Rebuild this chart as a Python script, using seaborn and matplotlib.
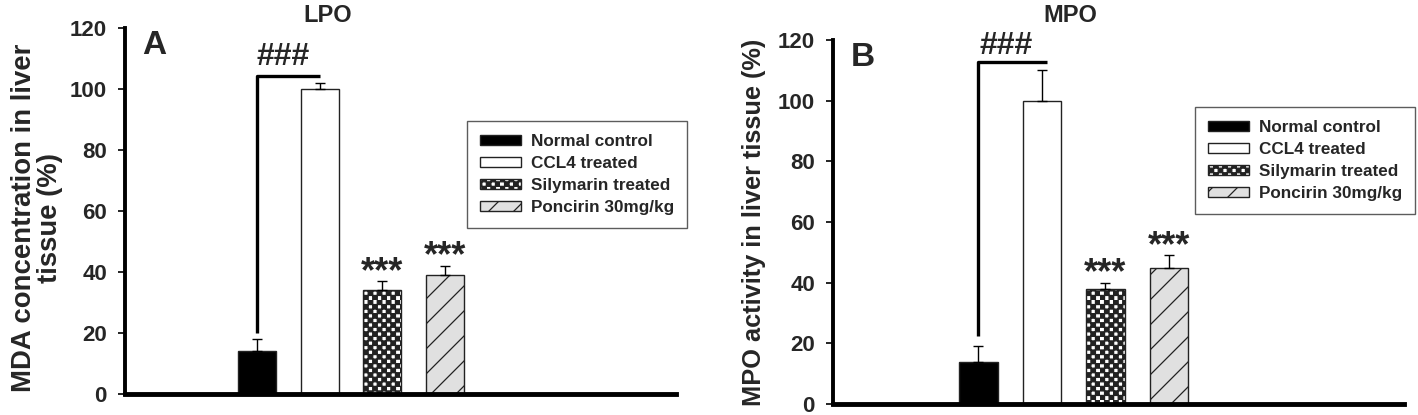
import warnings
import matplotlib
matplotlib.use("Agg")
import matplotlib.pyplot as plt
import matplotlib.hatch as mhatch
from matplotlib.path import Path
from matplotlib.patches import Patch
import seaborn as sns
import pandas as pd
import numpy as np

warnings.filterwarnings("ignore")

# Data
groups = ["Normal control", "CCL4 treated", "Silymarin treated", "Poncirin 30mg/kg"]
lpo_values = [14, 100, 34, 39]
lpo_errors = [4, 2, 3, 3]
mpo_values = [14, 100, 38, 45]
mpo_errors = [5, 10, 2, 4]
y_ticks = [0, 20, 40, 60, 80, 100, 120]


# checkerboard hatch ("c") and sparse diagonal hatch ("g")
class CheckerHatch(mhatch.HatchPatternBase):
    def __init__(self, hatch, density):
        self.n = 22 if "c" in hatch else 0
        self.cells = [(i, j) for i in range(self.n) for j in range(self.n)
                      if (i + j) % 2 == 0]
        self.num_vertices = len(self.cells) * 5

    def set_vertices_and_codes(self, vertices, codes):
        s = 1.0 / self.n
        k = 0
        for i, j in self.cells:
            x, y = i * s, j * s
            vertices[k:k + 5] = [(x, y), (x + s, y), (x + s, y + s), (x, y + s), (x, y)]
            codes[k] = Path.MOVETO
            codes[k + 1:k + 4] = Path.LINETO
            codes[k + 4] = Path.CLOSEPOLY
            k += 5


class SparseDiagHatch(mhatch.HatchPatternBase):
    def __init__(self, hatch, density):
        self.n = 8 if "g" in hatch else 0
        self.num_vertices = (self.n + 1) * 2 if self.n else 0

    def set_vertices_and_codes(self, vertices, codes):
        steps = np.linspace(-0.5, 0.5, self.n + 1)
        vertices[0::2, 0] = 0.0 + steps
        vertices[0::2, 1] = 0.0 - steps
        vertices[1::2, 0] = 1.0 + steps
        vertices[1::2, 1] = 1.0 - steps
        codes[0::2] = Path.MOVETO
        codes[1::2] = Path.LINETO


mhatch._hatch_types.append(CheckerHatch)
mhatch._hatch_types.append(SparseDiagHatch)

sns.set_theme(style="white")
plt.rcParams["font.family"] = ["Liberation Sans", "DejaVu Sans"]
plt.rcParams["hatch.linewidth"] = 0.9

faces = ["black", "white", "white", "#e0e0e0"]
hatches = [None, None, "c", "g"]

fig = plt.figure(figsize=(14.18, 4.15), dpi=100)
ax_a = fig.add_axes([125 / 1418, 21 / 415, 551 / 1418, 366 / 415])
ax_b = fig.add_axes([833 / 1418, 11 / 415, 571 / 1418, 364 / 415])


def draw_panel(ax, values, errors, xlim, letter, ylabel, label_xy, label_size,
               bracket, hash_pos):
    df = pd.DataFrame({"group": groups, "value": values})
    sns.barplot(data=df, x="group", y="value", hue="group", order=groups,
                palette=dict(zip(groups, faces)), edgecolor="#222222",
                linewidth=1.0, width=0.61, errorbar=None, legend=False, ax=ax)
    for patch, h in zip(ax.patches, hatches):
        if h:
            patch.set_hatch(h)
    x = np.arange(len(groups))
    ax.errorbar(x, values, yerr=[np.zeros(len(errors)), errors], fmt="none",
                ecolor="black", elinewidth=1.0, capsize=3.5, capthick=1.0)

    ax.set_xlim(*xlim)
    ax.set_ylim(0, 120)
    ax.set_yticks(y_ticks)
    ax.set_yticklabels([str(t) for t in y_ticks], fontsize=16, fontweight="bold")
    ax.set_xticks([])
    ax.set_xlabel("")
    ax.set_ylabel(ylabel, fontsize=label_size, fontweight="bold", linespacing=1.0)
    ax.yaxis.set_label_coords(*label_xy)
    ax.tick_params(axis="y", left=True, length=5, width=1.2, color="black", pad=8)
    for s in ["top", "right"]:
        ax.spines[s].set_visible(False)
    ax.spines["left"].set_linewidth(2.8)
    ax.spines["left"].set_color("black")
    ax.spines["bottom"].set_linewidth(3.5)
    ax.spines["bottom"].set_color("black")

    ax.text(0.031, 0.995, letter, transform=ax.transAxes, fontsize=24,
            fontweight="bold", va="top", ha="left")

    # significance bracket
    lo, hi, end = bracket
    ax.plot([0, 0, end], [lo, hi, hi], color="black", lw=2.4, clip_on=False,
            solid_capstyle="butt")
    ax.text(hash_pos[0], hash_pos[1], "###", ha="center", va="baseline",
            fontsize=23, fontweight="bold")
    for i in (2, 3):
        ax.annotate("***", (i, values[i] + errors[i]), xytext=(0, -0.5),
                    textcoords="offset points", ha="center", va="baseline",
                    fontsize=26, fontweight="bold")

    return [Patch(facecolor=f, edgecolor="#222222", hatch=h, label=g)
            for f, h, g in zip(faces, hatches, groups)]


def add_legend(ax, handles, anchor):
    leg = ax.legend(handles=handles, loc="upper left", bbox_to_anchor=anchor,
                    fontsize=12.3, frameon=True, fancybox=False, edgecolor="#333333",
                    handlelength=2.4, handleheight=0.55, borderpad=0.75,
                    borderaxespad=0, labelspacing=0.42, handletextpad=0.6)
    leg.get_frame().set_linewidth(1.0)
    for t in leg.get_texts():
        t.set_fontweight("bold")


handles = draw_panel(ax_a, lpo_values, lpo_errors, (-2.12, 6.70), "A",
                     "MDA concentration in liver\ntissue (%)", (-0.112, 0.481), 19.8,
                     (20, 104.3, 1.0), (0.41, 108))
add_legend(ax_a, handles, (0.621, 0.746))

handles = draw_panel(ax_b, mpo_values, mpo_errors, (-2.29, 6.70), "B",
                     "MPO activity in liver tissue (%)", (-0.117, 0.5), 18.3,
                     (22.4, 112.6, 1.08), (0.43, 115.5))
add_legend(ax_b, handles, (0.634, 0.816))

fig.text(328 / 1418, 0.99, "LPO", ha="center", va="top", fontsize=17,
         fontweight="bold")
fig.text(1070 / 1418, 0.99, "MPO", ha="center", va="top", fontsize=17,
         fontweight="bold")

fig.savefig("out.png", dpi=100)
